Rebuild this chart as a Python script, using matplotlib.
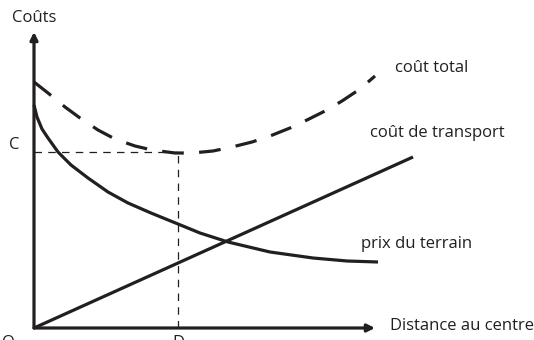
import matplotlib
matplotlib.use("Agg")
import matplotlib.pyplot as plt

plt.rcParams['font.family'] = ['Open Sans', 'DejaVu Sans']

INK = "#231f20"

# Data (distance from centre, cost)
total_distance = [0, 14, 31, 46, 64, 81, 101, 118, 141, 158, 179, 198, 218, 236, 256, 273, 293, 308, 326, 341]
total_cost = [246, 235, 221, 210, 198, 189, 182, 178, 175, 175, 177, 181, 186, 192, 200, 208, 218, 227, 239, 252]

land_distance = [0, 3, 8, 14, 24, 37, 54, 74, 94, 117, 144, 166, 194, 236, 279, 313, 344]
land_price = [223, 211, 199, 190, 176, 163, 150, 136, 125, 115, 104, 95, 86, 76, 70, 67, 66]

transport_distance = [0, 379]
transport_cost = [0, 171]

optimum_distance = 144
optimum_cost = 176

labels = {
    "total": "coût total",
    "transport": "coût de transport",
    "land": "prix du terrain",
    "xaxis": "Distance au centre",
    "yaxis": "Coûts",
}

fig = plt.figure(figsize=(5.34, 3.40), dpi=100)
ax = fig.add_axes([0, 0, 1, 1])
ax.set_xlim(-34, 500)
ax.set_ylim(-12, 328)
ax.axis("off")

# axes arrows
ax.annotate("", xy=(341, 0), xytext=(0, 0),
            arrowprops=dict(arrowstyle="-|>", lw=2.3, color=INK,
                            mutation_scale=11, shrinkA=0, shrinkB=0))
ax.annotate("", xy=(0, 296), xytext=(0, 0),
            arrowprops=dict(arrowstyle="-|>", lw=2.3, color=INK,
                            mutation_scale=11, shrinkA=0, shrinkB=0))

# guide lines
ax.plot([0, optimum_distance], [optimum_cost, optimum_cost], color=INK,
        lw=0.9, linestyle=(0, (6, 5)))
ax.plot([optimum_distance, optimum_distance], [0, optimum_cost], color=INK,
        lw=0.9, linestyle=(0, (6, 5)))

# curves
ax.plot(transport_distance, transport_cost, color=INK, lw=2.3,
        solid_capstyle="butt")
ax.plot(land_distance, land_price, color=INK, lw=2.3, solid_capstyle="butt",
        solid_joinstyle="round")
ax.plot(total_distance, total_cost, color=INK, lw=2.3,
        linestyle=(0, (6.8, 4.8)), dash_capstyle="butt", dash_joinstyle="round")

fs = 12
ax.text(-22, 310, labels["yaxis"], fontsize=fs, color=INK, ha="left", va="center")
ax.text(-20, 183, "C", fontsize=fs, color=INK, ha="center", va="center")
ax.text(-26, -7, "O", fontsize=fs, color=INK, ha="center", va="top")
ax.text(optimum_distance, -7, "D", fontsize=fs, color=INK, ha="center", va="top")
ax.text(361, 260, labels["total"], fontsize=fs, color=INK, ha="left", va="center")
ax.text(336, 195, labels["transport"], fontsize=fs, color=INK, ha="left", va="center")
ax.text(327, 84, labels["land"], fontsize=fs, color=INK, ha="left", va="center")
ax.text(356, 2, labels["xaxis"], fontsize=fs, color=INK, ha="left", va="center")

fig.savefig("out.png", dpi=100)
